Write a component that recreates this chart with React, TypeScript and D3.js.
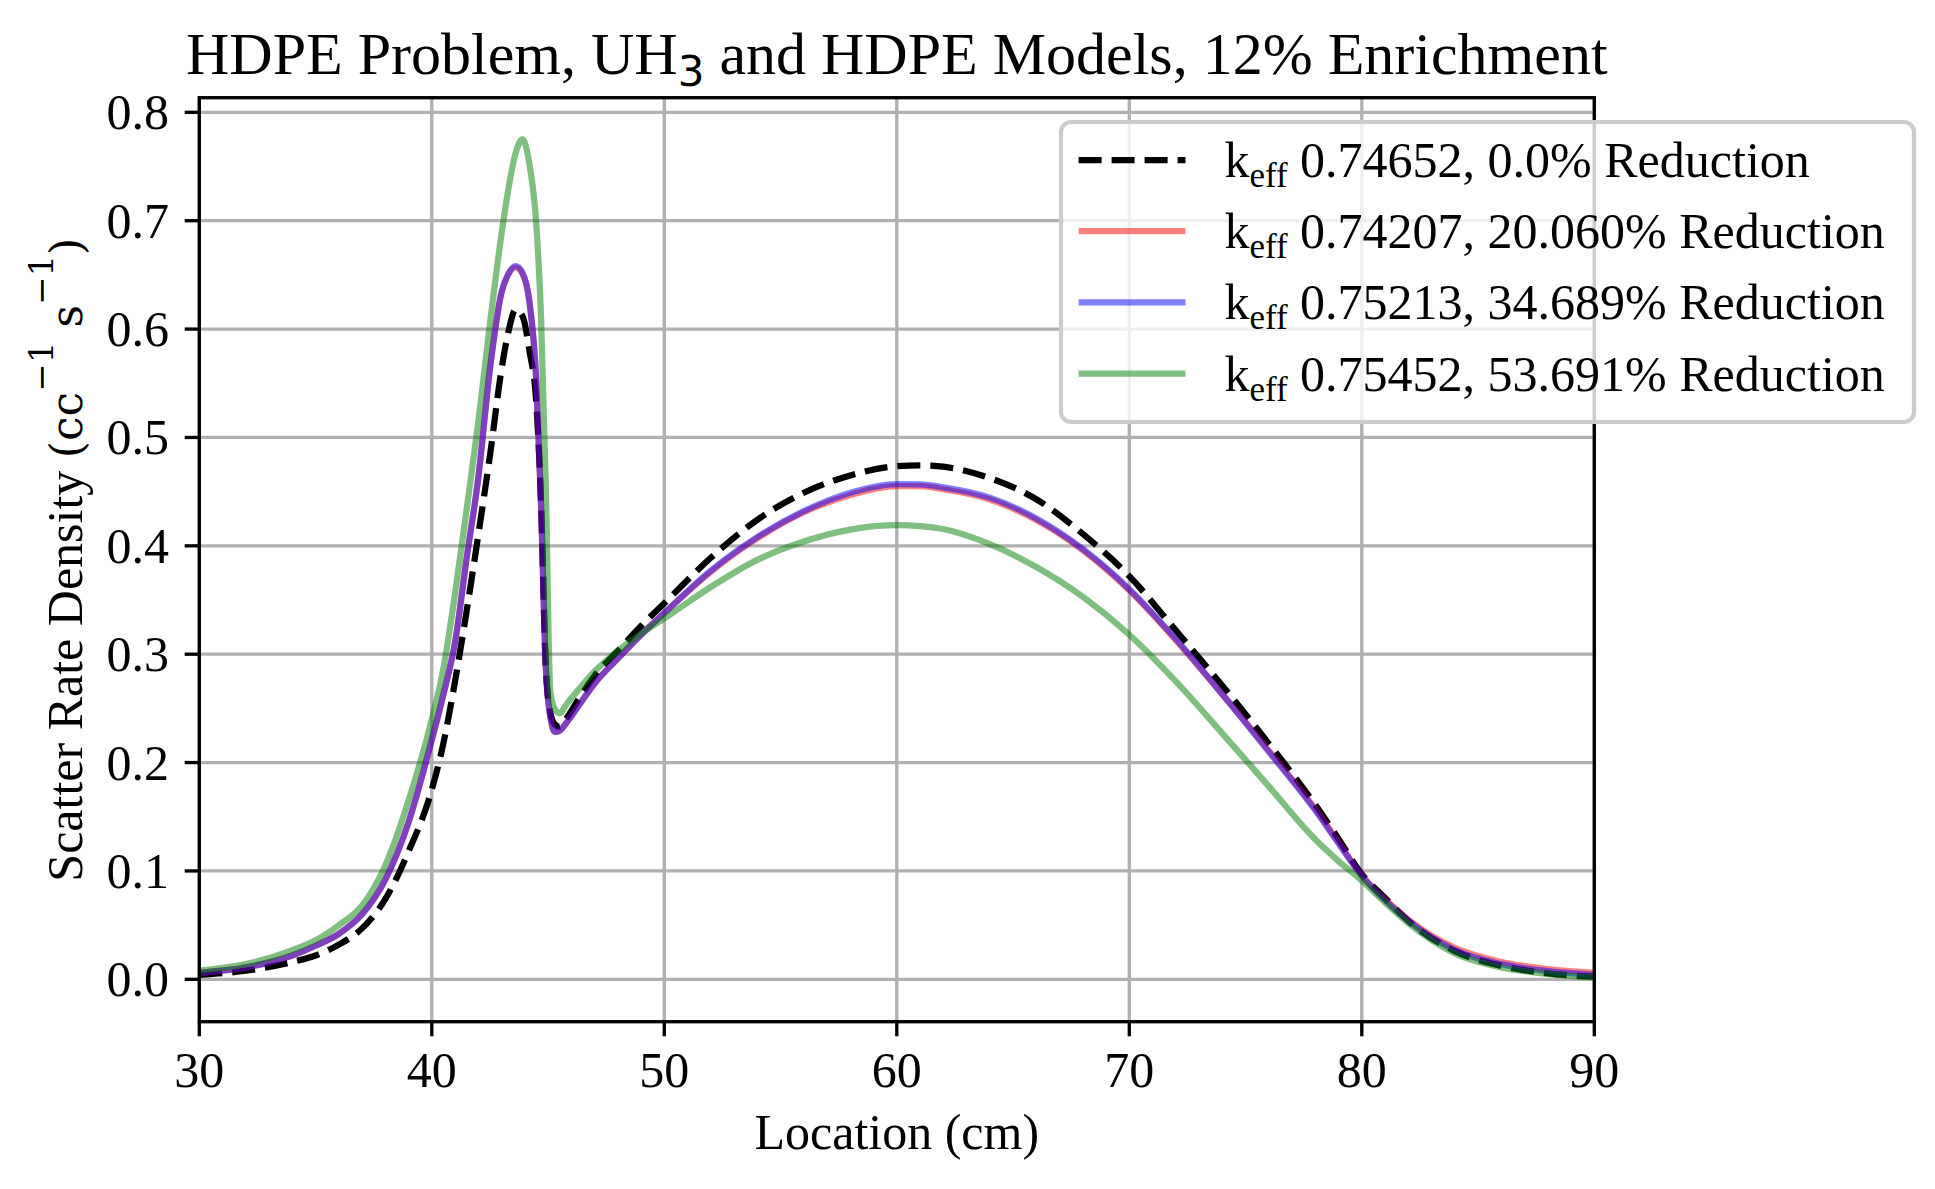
import React from 'react';
import * as d3 from 'd3';

// sample locations (cm), shared by all four series
const locations = [
  30, 32, 34, 35, 36, 37, 38, 39, 40, 40.5, 41, 41.5, 42, 42.5, 43, 43.3, 43.6, 43.9,
  44.2, 44.5, 44.7, 44.9, 45.1, 45.3, 45.5, 45.8, 46.3, 47, 48, 49, 50, 52, 54, 56, 58,
  60, 61, 62, 64, 66, 68, 70, 72, 74, 76, 78, 79, 80, 81, 82, 84, 86, 88, 90,
];

const baseRate = [
  0.004, 0.008, 0.016, 0.022, 0.032, 0.047, 0.074, 0.118, 0.175, 0.218, 0.275, 0.34, 0.41, 0.483,
  0.563, 0.598, 0.618, 0.612, 0.58, 0.53, 0.44, 0.29, 0.246, 0.235, 0.233, 0.241, 0.258, 0.28,
  0.303, 0.326, 0.347, 0.389, 0.424, 0.449, 0.465, 0.4735, 0.4743, 0.473, 0.4625, 0.443, 0.411,
  0.372, 0.322, 0.271, 0.2175, 0.161, 0.1295, 0.097, 0.075, 0.054, 0.026, 0.0125, 0.0055, 0.0024,
];

const rate20 = [
  0.006, 0.011, 0.022, 0.031, 0.042, 0.06, 0.092, 0.145, 0.221, 0.263, 0.311, 0.389, 0.463, 0.563,
  0.634, 0.651, 0.657, 0.651, 0.625, 0.55, 0.437, 0.29, 0.242, 0.2284, 0.2295, 0.237, 0.252, 0.273,
  0.296, 0.318, 0.338, 0.376, 0.407, 0.431, 0.447, 0.4552, 0.455, 0.4522, 0.4428, 0.4238, 0.396,
  0.359, 0.313, 0.263, 0.211, 0.157, 0.1265, 0.0956, 0.074, 0.055, 0.029, 0.016, 0.0095, 0.006,
];

const rate34 = [
  0.006, 0.011, 0.022, 0.031, 0.042, 0.06, 0.092, 0.145, 0.221, 0.263, 0.311, 0.389, 0.463, 0.563,
  0.634, 0.651, 0.658, 0.652, 0.625, 0.55, 0.437, 0.29, 0.242, 0.2284, 0.2295, 0.237, 0.252, 0.273,
  0.296, 0.318, 0.338, 0.377, 0.408, 0.432, 0.449, 0.457, 0.4567, 0.454, 0.4445, 0.4252, 0.397,
  0.36, 0.314, 0.263, 0.21, 0.156, 0.1255, 0.0956, 0.073, 0.054, 0.027, 0.014, 0.0075, 0.004,
];

const rate53 = [
  0.008, 0.014, 0.027, 0.036, 0.05, 0.068, 0.105, 0.165, 0.24, 0.287, 0.356, 0.434, 0.514, 0.605,
  0.688, 0.73, 0.762, 0.775, 0.752, 0.695, 0.61, 0.457, 0.265, 0.249, 0.2455, 0.254, 0.267, 0.284,
  0.303, 0.319, 0.333, 0.362, 0.387, 0.404, 0.415, 0.419, 0.4182, 0.4155, 0.4015, 0.3805, 0.353,
  0.318, 0.275, 0.227, 0.178, 0.129, 0.109, 0.091, 0.071, 0.052, 0.024, 0.011, 0.005, 0.0017,
];

const keffValues = ['0.74652', '0.74207', '0.75213', '0.75452'];
const reductions = ['0.0%', '20.060%', '34.689%', '53.691%'];
const xTicks = [30, 40, 50, 60, 70, 80, 90];
const yTicks = [0, 0.1, 0.2, 0.3, 0.4, 0.5, 0.6, 0.7, 0.8];

const series = [
  { values: baseRate, color: '#000000', opacity: 1, dash: '23 10' },
  { values: rate20, color: '#ff0000', opacity: 0.5, dash: undefined },
  { values: rate34, color: '#0000ff', opacity: 0.5, dash: undefined },
  { values: rate53, color: '#008000', opacity: 0.5, dash: undefined },
];

const W = 1935;
const H = 1189;
const plot = { left: 199.3, right: 1594.3, top: 97.7, bottom: 1021.7 };
const font = '"Liberation Serif", "Times New Roman", serif';
const mathFont = '"DejaVu Serif", serif';
const fs = 50;
const lw = 6.25;
const thin = 3.33;

const App: React.FC = () => {
  const x = d3.scaleLinear().domain([30, 90]).range([plot.left, plot.right]);
  const y = d3.scaleLinear().domain([-0.0391, 0.8135]).range([plot.bottom, plot.top]);

  const line = (vals: number[]) =>
    d3.line<number>()
      .x((_, i) => x(locations[i]))
      .y(d => y(d))
      .curve(d3.curveMonotoneX)(vals) || '';

  const cx = (plot.left + plot.right) / 2;
  const cy = (plot.top + plot.bottom) / 2;

  // legend geometry
  const lg = { x: 1061, y: 122, w: 853, h: 300 };
  const rowY = (i: number) => 160 + i * 71.2;

  return (
    <div style={{ position: 'absolute', left: 0, top: 0 }}>
      <svg width={W} height={H} viewBox={`0 0 ${W} ${H}`} style={{ display: 'block', background: '#fff' }}>
        <defs>
          <clipPath id="plotClip">
            <rect x={plot.left} y={plot.top} width={plot.right - plot.left} height={plot.bottom - plot.top} />
          </clipPath>
        </defs>

        {/* grid */}
        <g stroke="#b0b0b0" strokeWidth={thin}>
          {xTicks.map(t => (
            <line key={'gx' + t} x1={x(t)} x2={x(t)} y1={plot.top} y2={plot.bottom} />
          ))}
          {yTicks.map(t => (
            <line key={'gy' + t} x1={plot.left} x2={plot.right} y1={y(t)} y2={y(t)} />
          ))}
        </g>

        {/* curves */}
        <g clipPath="url(#plotClip)" fill="none">
          {series.map((s, i) => (
            <path
              key={i}
              d={line(s.values)}
              stroke={s.color}
              strokeOpacity={s.opacity}
              strokeWidth={lw}
              strokeDasharray={s.dash}
            />
          ))}
        </g>

        {/* spines */}
        <rect
          x={plot.left}
          y={plot.top}
          width={plot.right - plot.left}
          height={plot.bottom - plot.top}
          fill="none"
          stroke="#000"
          strokeWidth={thin}
        />

        {/* x axis */}
        <g fontFamily={font} fontSize={fs} fill="#000">
          {xTicks.map(t => (
            <g key={'xt' + t}>
              <line x1={x(t)} x2={x(t)} y1={plot.bottom} y2={plot.bottom + 14.6} stroke="#000" strokeWidth={thin} />
              <text x={x(t)} y={1087} textAnchor="middle">{t}</text>
            </g>
          ))}
          <text x={cx} y={1149} textAnchor="middle">Location (cm)</text>
        </g>

        {/* y axis */}
        <g fontFamily={font} fontSize={fs} fill="#000">
          {yTicks.map(t => (
            <g key={'yt' + t}>
              <line x1={plot.left - 14.6} x2={plot.left} y1={y(t)} y2={y(t)} stroke="#000" strokeWidth={thin} />
              <text x={169} y={y(t) + 17} textAnchor="end">{d3.format('.1f')(t)}</text>
            </g>
          ))}
          <text transform={`translate(82,${cy}) rotate(-90)`} textAnchor="middle">
            Scatter Rate Density{' '}
            <tspan fontFamily={mathFont} fontSize={44}>(cc</tspan>
            <tspan fontFamily={mathFont} fontSize={34} dy={-29}>−1</tspan>
            <tspan fontFamily={mathFont} fontSize={44} dy={29}>{'\u00a0s'}</tspan>
            <tspan fontFamily={mathFont} fontSize={34} dy={-29}>−1</tspan>
            <tspan fontFamily={mathFont} fontSize={44} dy={29}>)</tspan>
          </text>
        </g>

        {/* title */}
        <text x={cx} y={74} textAnchor="middle" fontFamily={font} fontSize={60} fill="#000">
          HDPE Problem, UH
          <tspan fontFamily='"DejaVu Sans", sans-serif' fontSize={42} dy={12}>3</tspan>
          <tspan dy={-12}> and HDPE Models, 12% Enrichment</tspan>
        </text>

        {/* legend */}
        <g>
          <rect
            x={lg.x}
            y={lg.y}
            width={lg.w}
            height={lg.h}
            rx={10}
            ry={10}
            fill="#ffffff"
            fillOpacity={0.8}
            stroke="#cccccc"
            strokeWidth={4.2}
          />
          {series.map((s, i) => (
            <g key={'lg' + i}>
              <line
                x1={1078.6}
                x2={1185.5}
                y1={rowY(i)}
                y2={rowY(i)}
                stroke={s.color}
                strokeOpacity={s.opacity}
                strokeWidth={lw}
                strokeDasharray={s.dash}
              />
              <text x={1224.4} y={rowY(i) + 17} fontFamily={font} fontSize={fs} fill="#000">
                k
                <tspan fontSize={35} dy={10}>eff</tspan>
                <tspan dy={-10}>{` ${keffValues[i]}, ${reductions[i]} Reduction`}</tspan>
              </text>
            </g>
          ))}
        </g>
      </svg>
    </div>
  );
};

export default App;
